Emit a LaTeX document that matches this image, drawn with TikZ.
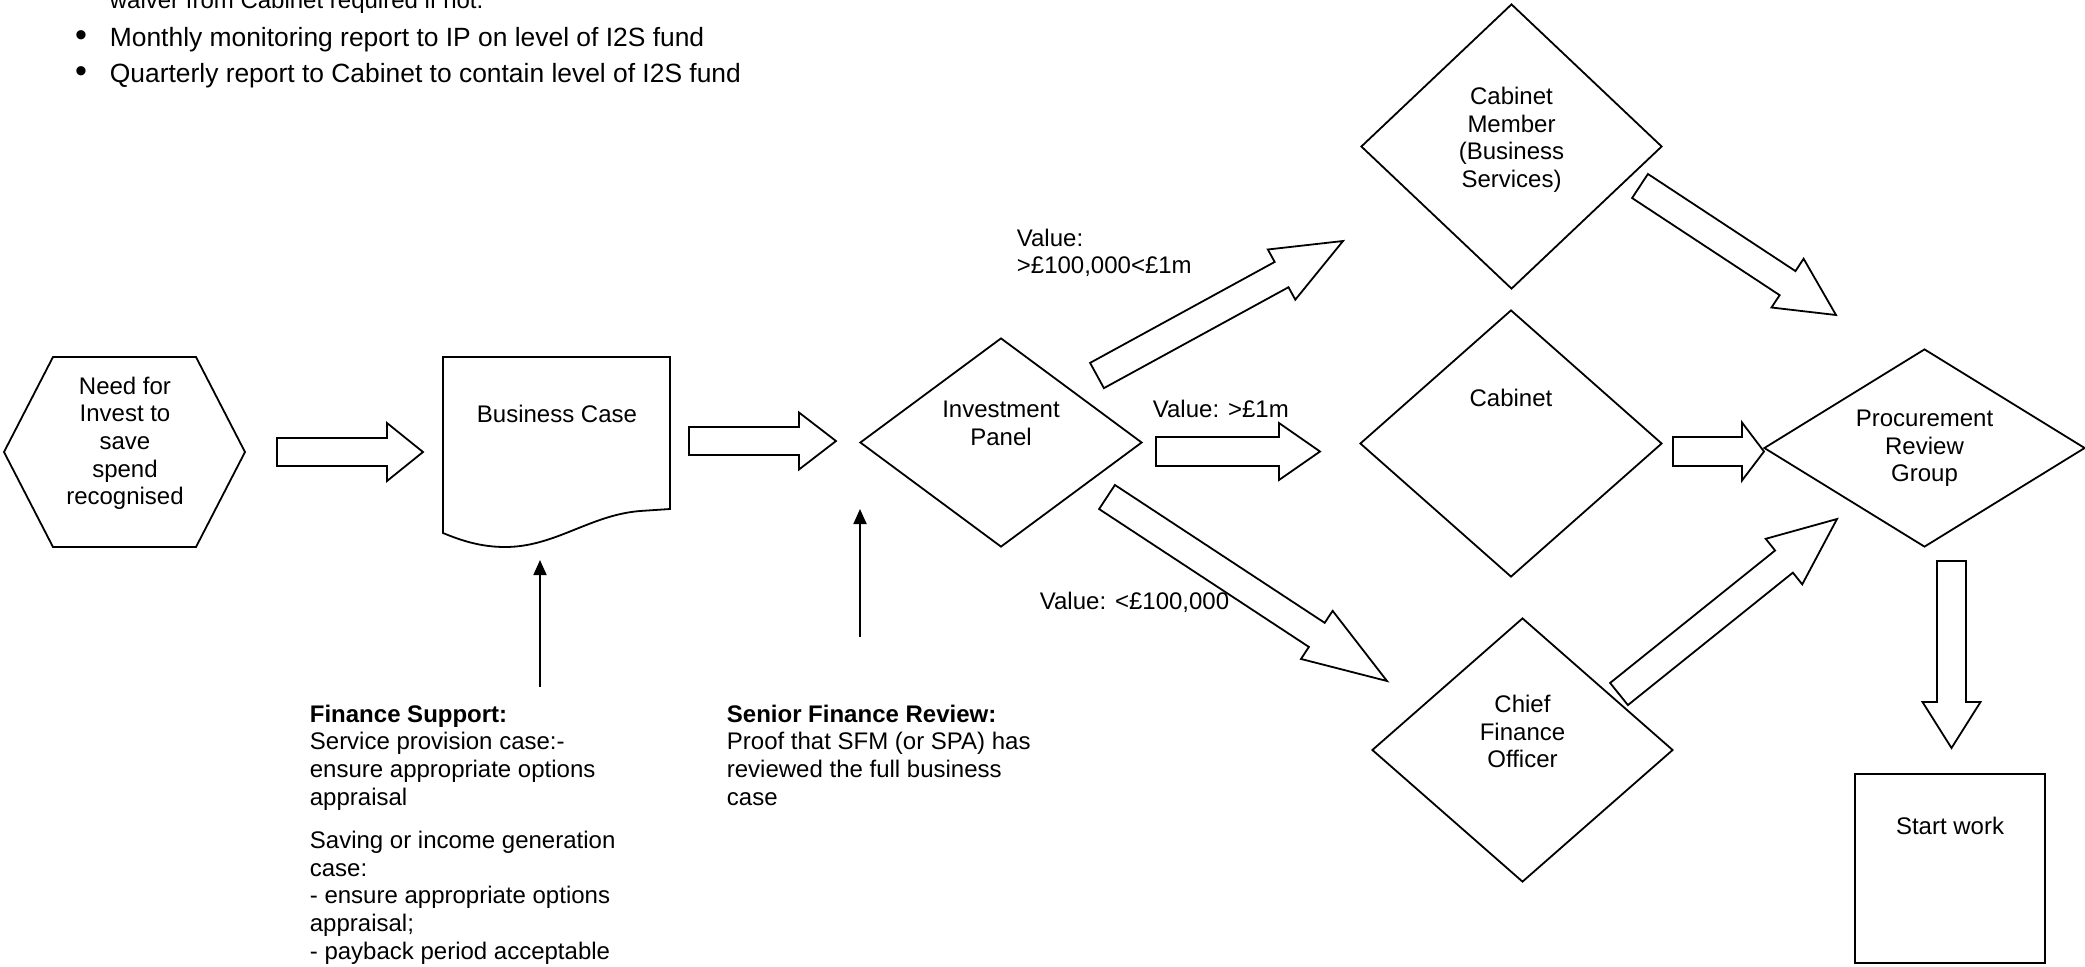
\documentclass[tikz,border=0pt]{standalone}
\usepackage{fontspec}
\setmainfont{Liberation Sans}
\usetikzlibrary{shapes.geometric,calc,arrows.meta,positioning}

\tikzset{every picture/.style={line width=0.9pt}}
\tikzset{
  decision/.style={diamond, draw, inner sep=0pt},
  lbl/.style={font=\fontsize{12}{13.8}\selectfont, align=center, inner sep=0pt},
  note/.style={font=\fontsize{12}{13.8}\selectfont, align=left, inner sep=0pt},
  bullet/.style={font=\fontsize{13.2}{15}\selectfont, inner sep=0pt},
  blockarrow/.style={draw, fill=white, line join=miter},
  thinarrow/.style={-{Triangle[length=7.5pt,width=6.5pt]}}
}
% block arrow: tail, tip, half shaft, half head, head length
\newcommand{\bigarrow}[5]{%
  \coordinate (#1-h) at ($(#2)!#5!(#1)$);
  \draw[blockarrow] ($(#1)!#3!90:(#2)$) -- ($(#1-h)!#3!90:(#2)$) -- ($(#1-h)!#4!90:(#2)$) -- (#2)
    -- ($(#1-h)!#4!-90:(#2)$) -- ($(#1-h)!#3!-90:(#2)$) -- ($(#1)!#3!-90:(#2)$) -- cycle;}

\begin{document}
\begin{tikzpicture}[x=0.5pt,y=-0.5pt]
    \useasboundingbox (0,0) rectangle (2085,966);

    % Text Node
    \node[note, anchor=base west] (waiver) at (109,8) {waiver from Cabinet required if not.};
    \node[bullet, anchor=base] (dot1) at (81,46) {\fontsize{17}{17}\selectfont •};
    \node[bullet, anchor=base west] (monthly) at (109,46) {Monthly monitoring report to IP on level of I2S fund};
    \node[bullet, anchor=base] (dot2) at (81,82) {\fontsize{17}{17}\selectfont •};
    \node[bullet, anchor=base west] (quarterly) at (109,82) {Quarterly report to Cabinet to contain level of I2S fund};

    %Shape: Hexagon
    \draw (4,452) -- (53,357) -- (196,357) -- (245,452) -- (196,547) -- (53,547) -- cycle;
    \node[lbl, anchor=north] (need) at (125,376) {Need for\\Invest to\\save\\spend\\recognised};

    %Shape: Document
    \draw (443,357) -- (670,357) -- (670,509) -- (640,511) .. controls (590,515) and (555,547) .. (505,547) .. controls (480,547) and (460,540) .. (443,533) -- cycle;
    \node[lbl, anchor=north] (bc) at (557,404) {Business Case};

    %Shape: Diamonds
    \node[decision, minimum width=141pt, minimum height=104.5pt] (ip) at (1001,442.5) {};
    \node[lbl, anchor=north] (ipText) at ([yshift=-31.5pt]ip.north) {Investment\\Panel};
    \node[decision, minimum width=150.5pt, minimum height=142.5pt] (cm) at (1511.5,146.5) {};
    \node[lbl, anchor=north] (cmText) at ([yshift=-41.5pt]cm.north) {Cabinet\\Member\\(Business\\Services)};
    \node[decision, minimum width=151pt, minimum height=133.5pt] (cab) at (1511,443.5) {};
    \node[lbl, anchor=north] (cabText) at ([yshift=-39.5pt]cab.north) {Cabinet};
    \node[decision, minimum width=150.5pt, minimum height=132pt] (cfo) at (1522.5,750) {};
    \node[lbl, anchor=north] (cfoText) at ([yshift=-38.5pt]cfo.north) {Chief\\Finance\\Officer};
    \node[decision, minimum width=160.5pt, minimum height=99pt] (prg) at (1924.5,448) {};
    \node[lbl, anchor=north] (prgText) at ([yshift=-30.5pt]prg.north) {Procurement\\Review\\Group};

    %Shape: Rectangle
    \node[draw, inner sep=0pt, minimum width=95pt, minimum height=94.5pt] (start) at (1950,868.5) {};
    \node[lbl, anchor=north] (startText) at ([yshift=-21.5pt]start.north) {Start work};

    %Block Arrows
    \coordinate (a1t) at (277,452);    \coordinate (a1p) at (423,452);
    \coordinate (a2t) at (689,441);    \coordinate (a2p) at (836,441);
    \coordinate (a3t) at (1156,451.5); \coordinate (a3p) at (1320,451.5);
    \coordinate (a4t) at (1097,375.5); \coordinate (a4p) at (1343,241);
    \coordinate (a5t) at (1107,497);   \coordinate (a5p) at (1387,681);
    \coordinate (a6t) at (1640,186);   \coordinate (a6p) at (1836,315);
    \coordinate (a7t) at (1673,451.5); \coordinate (a7p) at (1764,451.5);
    \coordinate (a8t) at (1619,694);   \coordinate (a8p) at (1837,519);
    \coordinate (a9t) at (1951.5,561); \coordinate (a9p) at (1951.5,748);
    \bigarrow{a1t}{a1p}{7pt}{14.5pt}{18pt}
    \bigarrow{a2t}{a2p}{7pt}{14.25pt}{18.5pt}
    \bigarrow{a3t}{a3p}{7.25pt}{14.25pt}{20.5pt}
    \bigarrow{a4t}{a4p}{7.2pt}{14.3pt}{35pt}
    \bigarrow{a5t}{a5p}{7.2pt}{14.4pt}{42pt}
    \bigarrow{a6t}{a6p}{7.2pt}{14.6pt}{29pt}
    \bigarrow{a7t}{a7p}{7.25pt}{14.5pt}{11pt}
    \bigarrow{a8t}{a8p}{7.1pt}{14.6pt}{34pt}
    \bigarrow{a9t}{a9p}{7.25pt}{14.5pt}{23pt}

    % Text Node
    \node[note, anchor=north west] (vMid) at (1016,228) {Value:\\>£100,000<£1m};
    \node[note, anchor=base west] (vTop) at (1152,417) {Value: >£1m};
    \node[note, anchor=base west] (vLow) at (1039,609) {Value: <£100,000};

    % Text Node
    \node[note, anchor=north west] (fin) at (309,704) {\textbf{Finance Support:}\\Service provision case:-\\ensure appropriate options\\appraisal\\[8pt]Saving or income generation\\case:\\- ensure appropriate options\\appraisal;\\- payback period acceptable};
    \node[note, anchor=north west] (sfr) at (726,704) {\textbf{Senior Finance Review:}\\Proof that SFM (or SPA) has\\reviewed the full business\\case};

    %Straight Lines
    \coordinate (finTip) at (540,687); \coordinate (bcIn) at (540,560);
    \draw[thinarrow] (finTip) -- (bcIn);
    \coordinate (sfrTip) at (860,637); \coordinate (ipIn) at (860,509);
    \draw[thinarrow] (sfrTip) -- (ipIn);

\end{tikzpicture}
\end{document}
